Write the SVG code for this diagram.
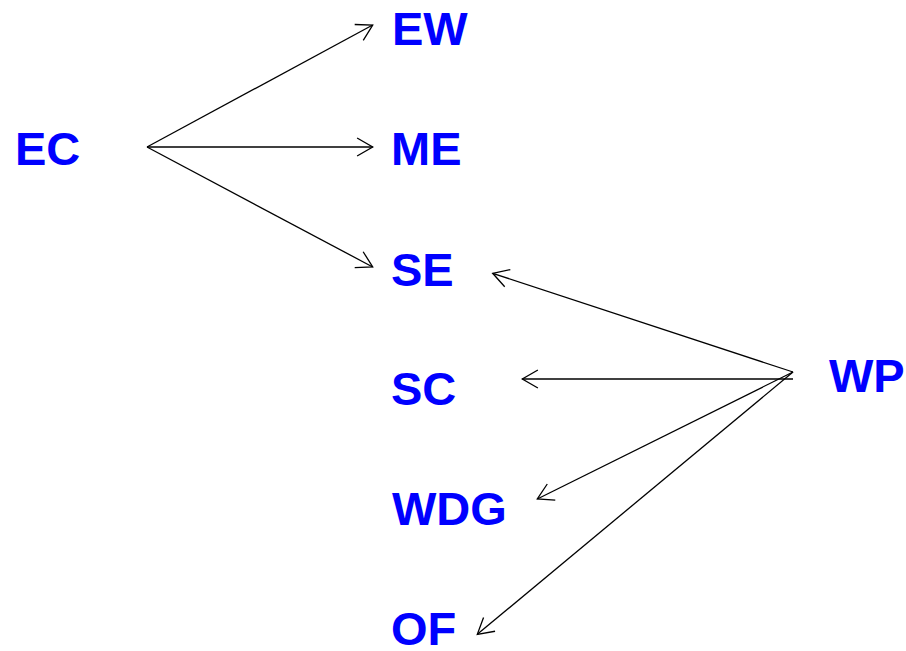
<svg xmlns="http://www.w3.org/2000/svg" width="906" height="651" viewBox="0 0 906 651">
<defs>
<style>
.lbl{font-family:"Liberation Sans",Arial,sans-serif;font-weight:bold;font-size:47px;fill:#0000FF}
.edge{stroke:#000;stroke-width:1.3;fill:none;marker-end:url(#arr)}
</style>
<marker id="arr" markerUnits="userSpaceOnUse" orient="auto" markerWidth="24" markerHeight="24" viewBox="-20 -12 24 24" refX="0" refY="0" overflow="visible">
<path d="M-15.6,-9 L0,0 L-15.6,9" fill="none" stroke="#000" stroke-width="1.3"/>
</marker>
</defs>
<rect width="906" height="651" fill="#fff"/>
<g id="connectors">
<line class="edge" x1="147" y1="147" x2="372.7" y2="25"/>
<line class="edge" x1="147" y1="147" x2="372.7" y2="147"/>
<line class="edge" x1="147" y1="147" x2="372.7" y2="267"/>
<line class="edge" x1="793" y1="372" x2="492.7" y2="273.3"/>
<line class="edge" x1="793" y1="379" x2="522.3" y2="379"/>
<line class="edge" x1="793" y1="372" x2="537.3" y2="499"/>
<line class="edge" x1="793" y1="372" x2="477.3" y2="634.3"/>
</g>
<g id="EC"><text class="lbl" x="15" y="165">EC</text></g>
<g id="EW"><text class="lbl" x="392" y="45">EW</text></g>
<g id="ME"><text class="lbl" x="391" y="165">ME</text></g>
<g id="SE"><text class="lbl" x="391" y="286">SE</text></g>
<g id="SC"><text class="lbl" x="391" y="405">SC</text></g>
<g id="WDG"><text class="lbl" x="392" y="525">WDG</text></g>
<g id="OF"><text class="lbl" x="391" y="645">OF</text></g>
<g id="WP"><text class="lbl" x="829" y="392">WP</text></g>
</svg>
